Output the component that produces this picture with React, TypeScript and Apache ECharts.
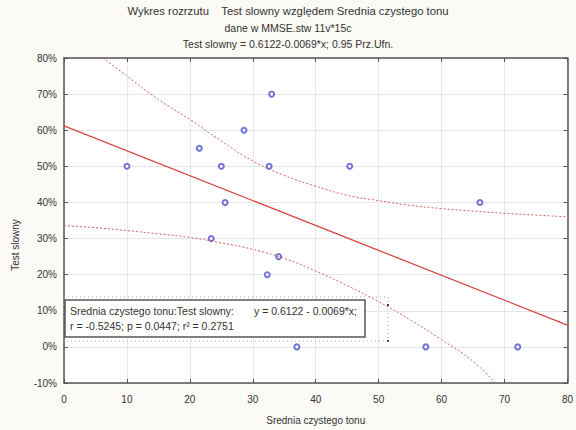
import React, { useEffect, useRef } from "react";
import * as echarts from "echarts";

const xValues = [10, 21.5, 25, 25.6, 23.4, 28.6, 33, 32.6, 32.3, 34.1, 37, 45.4, 66.1, 57.5, 72.1];
const yValues = [50, 55, 50, 40, 30, 60, 70, 50, 20, 25, 0, 50, 40, 0, 0];

const fitX = [0, 80];
const fitY = [61.22, 6.02];

const upperX = [6.2, 10, 15, 20, 25, 30, 35, 40, 45, 50, 55, 60, 65, 70, 75, 80];
const upperY = [80, 75, 68.5, 63, 57, 51.5, 47.5, 44.5, 42, 40.5, 39.2, 38.3, 37.6, 37, 36.5, 36];
const lowerX = [0, 5, 10, 15, 20, 25, 30, 35, 40, 45, 50, 55, 60, 65, 68.5];
const lowerY = [33.6, 33, 32.2, 31.3, 30.3, 28.8, 27, 24.5, 21, 17, 12.5, 7.5, 2, -4, -10];

const xTicks = { min: 0, max: 80, interval: 10 };
const yTicks = { min: -10, max: 80, interval: 10 };

const titleLines = [
  "Wykres rozrzutu    Test slowny względem Srednia czystego tonu",
  "dane w MMSE.stw 11v*15c",
  "Test slowny = 0.6122-0.0069*x; 0.95 Prz.Ufn.",
];
const boxLabel = "Srednia czystego tonu:Test slowny:";
const boxEquation = "y = 0.6122 - 0.0069*x;";
const boxStats = "r = -0.5245; p = 0.0447; r² = 0.2751";
const xName = "Srednia czystego tonu";
const yName = "Test slowny";

const FONT = "'Liberation Sans', Arial, sans-serif";

export default function App() {
  const ref = useRef<HTMLDivElement>(null);
  useEffect(() => {
    if (!ref.current) return;
    const chart = echarts.init(ref.current, null, { renderer: "svg" });
    const axisLine = { show: true, onZero: false, lineStyle: { color: "#555", width: 1.5 } };
    const tick = { show: true, inside: true, length: 4, lineStyle: { color: "#555" } };
    const zip = (a: number[], b: number[]) => a.map((v, i) => [v, b[i]]);
    const boxText = (text: string, x: number, y: number) => ({
      type: "text", x, y, z: 12,
      style: { text, fill: "#333", font: `10.5px ${FONT}`, textAlign: "left", textVerticalAlign: "middle" },
    });
    chart.setOption({
      animation: false,
      backgroundColor: "#fcfaf6",
      textStyle: { fontFamily: FONT },
      grid: { left: 64, right: 6, top: 58, bottom: 46, show: true, backgroundColor: "#ffffff", borderWidth: 0 },
      xAxis: [
        {
          type: "value", position: "bottom", ...xTicks,
          axisLine, axisTick: tick,
          axisLabel: { color: "#333", fontSize: 10, margin: 11, fontFamily: FONT },
          splitLine: { show: true, lineStyle: { color: "#e6e6e6", width: 1 } },
          name: xName, nameLocation: "middle", nameGap: 32,
          nameTextStyle: { color: "#333", fontSize: 10, fontFamily: FONT },
        },
        {
          type: "value", position: "top", ...xTicks,
          axisLine, axisTick: tick, axisLabel: { show: false }, splitLine: { show: false },
        },
      ],
      yAxis: [
        {
          type: "value", position: "left", ...yTicks,
          axisLine, axisTick: tick,
          axisLabel: { color: "#333", fontSize: 10, margin: 7, fontFamily: FONT, formatter: (v: number) => `${v}%` },
          splitLine: { show: true, lineStyle: { color: "#e6e6e6", width: 1 } },
        },
        {
          type: "value", position: "right", ...yTicks,
          axisLine, axisTick: tick, axisLabel: { show: false }, splitLine: { show: false },
        },
      ],
      series: [
        {
          type: "line", data: zip(fitX, fitY), showSymbol: false, silent: true,
          lineStyle: { color: "#d64545", width: 1.3 },
        },
        {
          type: "line", data: zip(upperX, upperY), showSymbol: false, smooth: true, silent: true,
          lineStyle: { color: "#d86060", width: 1, type: [2, 2] },
        },
        {
          type: "line", data: zip(lowerX, lowerY), showSymbol: false, smooth: true, silent: true,
          lineStyle: { color: "#d86060", width: 1, type: [2, 2] },
        },
        {
          type: "scatter", data: zip(xValues, yValues), symbol: "emptyCircle", symbolSize: 5,
          itemStyle: { color: "#5050c8", borderColor: "#5050c8", borderWidth: 1 },
        },
      ],
      graphic: [
        ...titleLines.map((t, i) => ({
          type: "text", x: 288, y: 11 + i * 16.5,
          style: {
            text: t, fill: "#333", font: `${i === 0 ? 11.3 : 10.5}px ${FONT}`,
            textAlign: "center", textVerticalAlign: "middle",
          },
        })),
        {
          type: "text", x: 15, y: 245, rotation: Math.PI / 2,
          style: { text: yName, fill: "#333", font: `10px ${FONT}`, textAlign: "center", textVerticalAlign: "middle" },
        },
        {
          type: "rect", shape: { x: 64, y: 297, width: 324, height: 44 },
          style: { fill: "none", stroke: "#aaa", lineWidth: 1, lineDash: [1, 3] }, z: 10,
        },
        {
          type: "rect", shape: { x: 65, y: 300, width: 300, height: 37 },
          style: { fill: "#ffffff", stroke: "#555", lineWidth: 1.5 }, z: 11,
        },
        boxText(boxLabel, 70, 311),
        boxText(boxEquation, 254, 311),
        boxText(boxStats, 70, 326),
        { type: "rect", shape: { x: 387, y: 304, width: 2, height: 2 }, style: { fill: "#444" }, z: 12 },
        { type: "rect", shape: { x: 387, y: 340, width: 2, height: 2 }, style: { fill: "#444" }, z: 12 },
      ],
    });
    return () => chart.dispose();
  }, []);
  return <div ref={ref} style={{ position: "absolute", left: 0, top: 0, width: 576, height: 430 }} />;
}
